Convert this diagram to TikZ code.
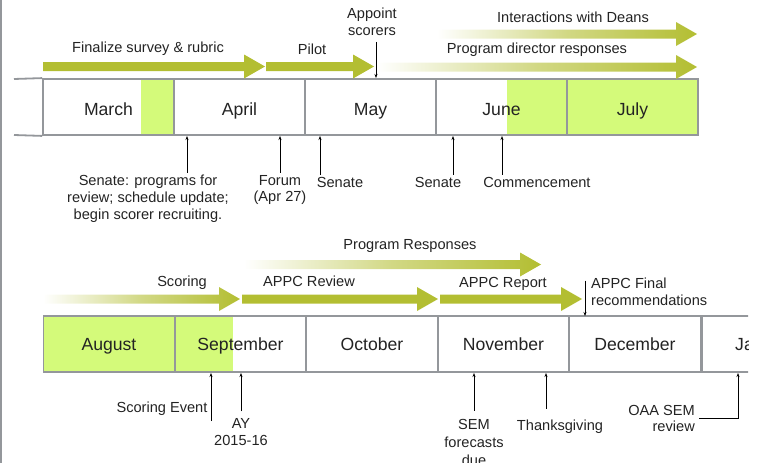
\documentclass[tikz,border=0pt]{standalone}
\usepackage{fontspec}
\setmainfont{Liberation Sans}
\usetikzlibrary{arrows.meta}

\definecolor{olivebar}{RGB}{179,190,50}
\definecolor{limefill}{RGB}{212,250,122}
\definecolor{gridgrey}{RGB}{148,151,155}
\definecolor{inkgrey}{RGB}{35,35,35}

\tikzset{
  month/.style={draw=gridgrey, line width=1.8pt, minimum width=131pt, minimum height=56pt,
    inner sep=0, text=inkgrey, text height=12.6pt, text depth=0pt, font=\fontsize{17.6}{20}\selectfont},
  monthtext/.style={inner sep=0, text=inkgrey, text height=12.6pt, text depth=0pt, font=\fontsize{17.6}{20}\selectfont},
  note/.style={inner sep=0, text=inkgrey, align=center, font=\fontsize{14.6}{16.8}\selectfont},
  tick/.style={draw=black, line width=0.6pt, -{Stealth[length=4pt,width=3pt]}},
  gridline/.style={draw=gridgrey, line width=1.8pt},
  solidbar/.style={fill=olivebar},
  fadebar/.style={left color=white, right color=olivebar, middle color=olivebar!60},
}
\newcommand\timearrow[4]{%
  \path[#1] (#2,#4-4.5) -- (#3-21,#4-4.5) -- (#3-21,#4-12) -- (#3,#4)
    -- (#3-21,#4+12) -- (#3-21,#4+4.5) -- (#2,#4+4.5) -- cycle;}

\begin{document}
\begin{tikzpicture}[x=1pt, y=-1pt]
 \useasboundingbox (0,0) rectangle (758,463);
 \draw[gridline, line width=1.5pt] (0.75,0) -- (0.75,463);

 % first half: March to July
 \fill[limefill] (141,79) rectangle (174,135);
 \fill[limefill] (507,79) rectangle (697,135);
 \foreach \m [count=\i from 0] in {March,April,May,June,July}
   \node[month, minimum height=56pt] (m\m) at (108.5+131*\i,107) {};
 \foreach \m [count=\i from 0] in {March,April,May,June,July}
   \node[monthtext] (t\m) at (108.5+131*\i,109) {\m};
 \draw[gridline] (14,79) -- (mMarch.north west);
 \draw[gridline] (14,135) -- (mMarch.south west);

 \timearrow{solidbar}{43}{265}{66.5}
 \timearrow{solidbar}{266}{374}{66.5}
 \timearrow{fadebar}{437}{697}{34}
 \timearrow{fadebar}{377}{697}{67}

 \node[note] (finalize) at (148,49) {Finalize survey \& rubric};
 \node[note] (pilot) at (312,49) {Pilot};
 \node[note] (appoint) at (372,22) {Appoint\\scorers};
 \node[note] (deans) at (573,17) {Interactions with Deans};
 \node[note] (directors) at (537,50) {Program director responses};

 \node[note] (senateA) at (148,198.5) {Senate: programs for\\review; schedule update;\\begin scorer recruiting.};
 \node[note] (forum) at (280,190) {Forum\\(Apr 27)};
 \node[note] (senateB) at (340,182) {Senate};
 \node[note] (senateC) at (438,182) {Senate};
 \node[note] (commence) at (537,182) {Commencement};

 \coordinate (tAppoint) at (376,78);
 \coordinate (tSenA) at (187,136);
 \coordinate (tForum) at (280,136);
 \coordinate (tSenB) at (320,136);
 \coordinate (tSenC) at (453,136);
 \coordinate (tCommence) at (502,136);
 \draw[tick, shorten <=6pt] (appoint.south -| tAppoint) -- (tAppoint);
 \draw[tick, shorten <=2pt] (senateA.north -| tSenA) -- (tSenA);
 \draw[tick, shorten <=2pt] (forum.north -| tForum) -- (tForum);
 \draw[tick, shorten <=2pt] (senateB.north -| tSenB) -- (tSenB);
 \draw[tick, shorten <=2pt] (senateC.north -| tSenC) -- (tSenC);
 \draw[tick, shorten <=2pt] (commence.north -| tCommence) -- (tCommence);

 % second half: August to January
 \fill[limefill] (43,316) rectangle (233,372);
 \foreach \m [count=\i from 0] in {August,September,October,November,December}
   \node[month] (m\m) at (109+131.5*\i,344) {};
 \foreach \m [count=\i from 0] in {August,September,October,November,December}
   \node[monthtext] (t\m) at (109+131.5*\i,344) {\m};
 \begin{scope}
  \clip (0,0) rectangle (748,463);
  \node[month, anchor=west] (mJan) at (mDecember.east) {};
  \node[monthtext, anchor=west] (tJan) at (735,344) {Ja};
 \end{scope}

 \timearrow{fadebar}{43}{240}{299}
 \timearrow{solidbar}{242}{438}{299}
 \timearrow{solidbar}{440}{582}{299}
 \timearrow{fadebar}{244}{541}{264.5}

 \node[note] (responses) at (410,246) {Program Responses};
 \node[note] (scoring) at (182,283) {Scoring};
 \node[note] (review) at (309,281) {APPC Review};
 \node[note] (report) at (503,284) {APPC Report};
 \node[note, align=left, anchor=west] (final) at (591,291.5) {APPC Final\\recommendations};

 \node[note] (scoreEvent) at (162,409) {Scoring Event};
 \node[note] (ay) at (241,432) {AY\\2015-16};
 \node[note, font=\fontsize{14.6}{18}\selectfont] (sem) at (474,442) {SEM\\forecasts\\due};
 \node[note] (thanks) at (560,427) {Thanksgiving};
 \node[note, align=right, anchor=east] (oaa) at (695,418.5) {OAA SEM\\review};

 \coordinate (tFinal) at (585,316);
 \coordinate (tScoreEvent) at (211,373);
 \coordinate (tAy) at (241,373);
 \coordinate (tSem) at (474,373);
 \coordinate (tThanks) at (546,373);
 \coordinate (tOaa) at (738,373);
 \draw[tick, shorten <=3pt] (final.north -| tFinal) -- (tFinal);
 \draw[tick, shorten <=-5pt] (scoreEvent.south -| tScoreEvent) -- (tScoreEvent);
 \draw[tick, shorten <=7pt] (ay.north -| tAy) -- (tAy);
 \draw[tick, shorten <=8pt] (sem.north -| tSem) -- (tSem);
 \draw[tick, shorten <=11pt] (thanks.north -| tThanks) -- (tThanks);
 \draw[tick, shorten <=4pt] (oaa.east) -| (tOaa);
\end{tikzpicture}
\end{document}
